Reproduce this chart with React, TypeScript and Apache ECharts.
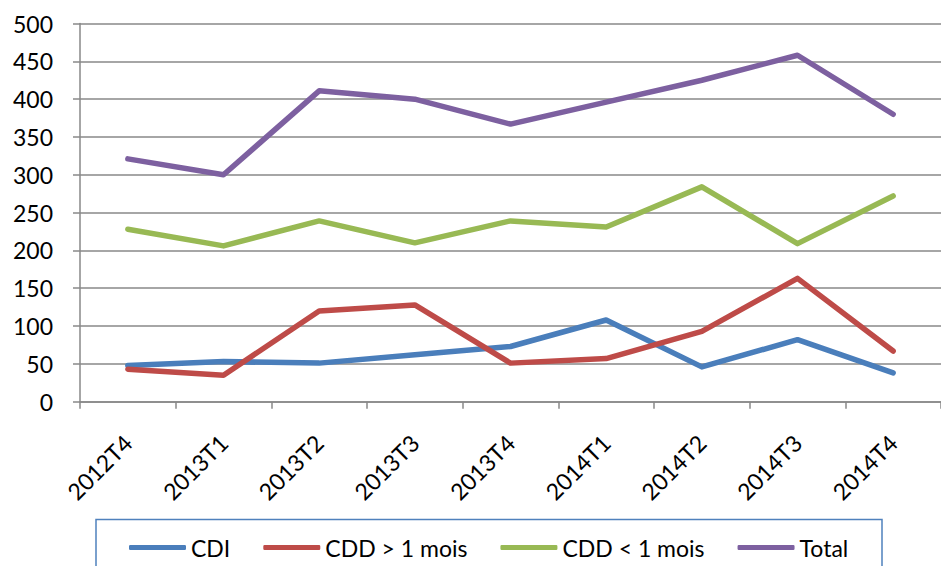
import React, { useEffect, useRef } from "react";
import * as echarts from "echarts";

const categories = ["2012T4", "2013T1", "2013T2", "2013T3", "2013T4", "2014T1", "2014T2", "2014T3", "2014T4"];
const cdi = [48, 53, 51, 62, 73, 108, 46, 82, 38];
const cddPlus = [43, 35, 120, 128, 51, 57, 93, 163, 67];
const cddMinus = [228, 206, 239, 210, 239, 231, 284, 209, 272];
const total = [321, 300, 411, 400, 367, 396, 425, 458, 380];
const seriesNames = ["CDI", "CDD > 1 mois", "CDD < 1 mois", "Total"];
const colors = ["#4A7EBB", "#BE4B48", "#98B954", "#7D60A0"];

const FONT = "Lato, 'Open Sans', sans-serif";
const GRID_COLOR = "#888888";

export default function App() {
  const ref = useRef<HTMLDivElement>(null);
  useEffect(() => {
    if (!ref.current) return;
    const chart = echarts.init(ref.current, undefined, { renderer: "svg" });
    const dataSets = [cdi, cddPlus, cddMinus, total];
    chart.setOption({
      animation: false,
      backgroundColor: "#ffffff",
      textStyle: { fontFamily: FONT },
      grid: { left: 80, top: 23.5, right: -13, bottom: 164.3, containLabel: false },
      legend: {
        left: 124,
        top: 531,
        itemWidth: 57,
        itemHeight: 5,
        itemGap: 33,
        icon: "roundRect",
        textStyle: { fontFamily: FONT, fontSize: 23, color: "#000" },
        data: seriesNames,
      },
      xAxis: {
        type: "category",
        data: categories,
        boundaryGap: true,
        axisLine: { show: true, lineStyle: { color: GRID_COLOR, width: 1.5 } },
        axisTick: { show: true, length: 7, lineStyle: { color: GRID_COLOR, width: 1.5 } },
        axisLabel: { rotate: 45, interval: 0, margin: 37, fontFamily: FONT, fontSize: 23, color: "#000" },
        splitLine: { show: false },
      },
      yAxis: {
        type: "value",
        min: 0,
        max: 500,
        interval: 50,
        axisLine: { show: true, lineStyle: { color: GRID_COLOR, width: 1.5 } },
        axisTick: { show: true, length: 7, lineStyle: { color: GRID_COLOR, width: 1.5 } },
        axisLabel: { margin: 27, fontFamily: FONT, fontSize: 23, color: "#000" },
        splitLine: { show: true, lineStyle: { color: GRID_COLOR, width: 1.5 } },
      },
      graphic: [
        {
          type: "rect",
          shape: { x: 96, y: 519.5, width: 786, height: 70 },
          style: { fill: "none", stroke: "#4F81BD", lineWidth: 1.5 },
          silent: true,
        },
      ],
      series: seriesNames.map((name, i) => ({
        name,
        type: "line",
        data: dataSets[i],
        symbol: "none",
        color: colors[i],
        lineStyle: { width: 5.5, color: colors[i], cap: "round", join: "round" },
        itemStyle: { color: colors[i] },
      })),
    });
    return () => chart.dispose();
  }, []);
  return <div ref={ref} style={{ position: "fixed", left: 0, top: 0, width: 941, height: 566 }} />;
}
